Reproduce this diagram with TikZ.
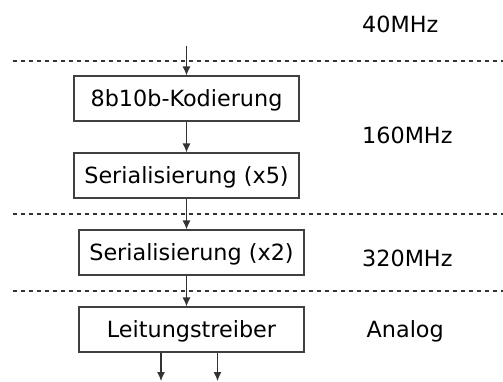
\documentclass[tikz,border=0pt]{standalone}
\usepackage{fontspec}
\setmainfont{DejaVu Sans}
\usetikzlibrary{arrows.meta,calc}
\begin{document}
\begin{tikzpicture}[x=1pt,y=1pt,
  font=\fontsize{22.3}{26}\selectfont,
  stepbox/.style={draw=black!75,line width=1.2pt,minimum width=225pt,minimum height=45pt,inner sep=0pt,text height=16.5pt,text depth=0pt},
  flow/.style={draw=black!80,line width=1.2pt,-{Latex[length=9pt,width=8pt]}},
  sep/.style={draw=black!80,line width=1.1pt,dash pattern=on 4.5pt off 3.5pt},
  clk/.style={anchor=base west,inner sep=0pt}]
\useasboundingbox (0,0) rectangle (503,-381);
\node[stepbox] (b1) at (186.5,-98.5) {8b10b-Kodierung};
\node[stepbox] (b2) at (186.5,-175.5) {Serialisierung (x5)};
\node[stepbox] (b3) at (191.5,-252.5) {Serialisierung (x2)};
\node[stepbox] (b4) at (191.5,-329.5) {Leitungstreiber};
\coordinate (in) at (186.5,-45.5);
\coordinate (o1) at (161,-381);
\coordinate (o2) at (217.5,-381);
\coordinate (l1a) at (12.5,-61);
\coordinate (l1b) at (503,-61);
\coordinate (l2a) at (12.5,-214);
\coordinate (l2b) at (503,-214);
\coordinate (l3a) at (12.5,-291);
\coordinate (l3b) at (503,-291);
\draw[sep] (l1a) -- (l1b);
\draw[sep] (l2a) -- (l2b);
\draw[sep] (l3a) -- (l3b);
\draw[flow] (in) -- (b1.north);
\draw[flow] (b1.south) -- (b2.north);
\draw[flow] (b2.south) -- (b2.south |- b3.north);
\draw[flow] (b2.south |- b3.south) -- (b2.south |- b4.north);
\draw[flow] (o1 |- b4.south) -- (o1);
\draw[flow] (o2 |- b4.south) -- (o2);
\node[clk] (f1) at (362,-32.7) {40MHz};
\node[clk] (f2) at (362,-143.3) {160MHz};
\node[clk] (f3) at (362,-266) {320MHz};
\node[clk] (f4) at (366.5,-337) {Analog};
\end{tikzpicture}
\end{document}
